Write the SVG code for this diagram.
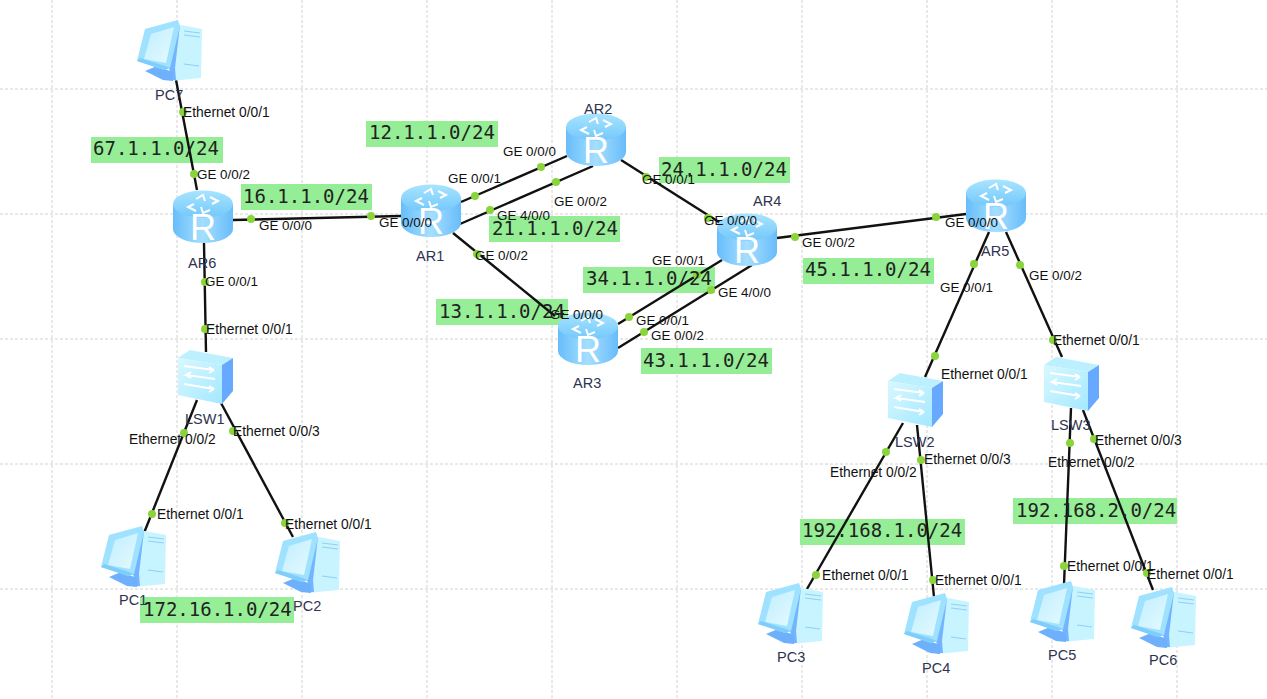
<svg xmlns="http://www.w3.org/2000/svg" width="1267" height="699" viewBox="0 0 1267 699">
<style>
.grid{stroke:#d2d2d2;stroke-width:1;stroke-dasharray:3 2;fill:none}
.link{stroke:#111;stroke-width:2.4;fill:none}
.dot{fill:#8ad43c}
.net{fill:#90ee90}
.nett{font-family:"DejaVu Sans Mono","Liberation Mono",monospace;font-size:19px;fill:#222}
.port{font-family:"Liberation Sans",Arial,sans-serif;font-size:13.4px;fill:#111}
.eth{font-size:13.8px}
.name{font-family:"Liberation Sans",Arial,sans-serif;font-size:14.5px;fill:#2e3350}
.ico{fill:none;stroke:#fff;stroke-width:2}
</style>
<defs>
<linearGradient id="rb" x1="0" y1="0" x2="1" y2="0"><stop offset="0" stop-color="#67bdfb"/><stop offset=".5" stop-color="#a5dfff"/><stop offset="1" stop-color="#68bcfa"/></linearGradient>
<linearGradient id="rt" x1="0" y1="0" x2="0" y2="1"><stop offset="0" stop-color="#a8e4ff"/><stop offset="1" stop-color="#74c8fb"/></linearGradient>
<linearGradient id="sf" x1="0" y1="0" x2="1" y2="1"><stop offset="0" stop-color="#d8f8ff"/><stop offset="1" stop-color="#a4e8ff"/></linearGradient>
<linearGradient id="ps" x1="0" y1="0" x2="1" y2="1"><stop offset="0" stop-color="#c0eeff"/><stop offset="1" stop-color="#e4faff"/></linearGradient>
<symbol id="router" width="60" height="53" viewBox="0 0 60 53" overflow="visible">
<path d="M0 14V39A30 14 0 0 0 60 39V14Z" fill="url(#rb)"/>
<ellipse cx="30" cy="14" rx="30" ry="13.5" fill="url(#rt)"/>
<path class="ico" d="M23 9l7-4 2 6M37 7l8 4-6 3M37 20l-7 3-2-6M23 21l-8-4 6-3"/>
<text x="30" y="50" text-anchor="middle" font-family="Liberation Sans,Arial,sans-serif" font-size="36" fill="#fff">R</text>
</symbol>
<symbol id="switch" width="55" height="54" viewBox="0 0 55 54" overflow="visible">
<path d="M0 8L12 0L55 8L44 15Z" fill="#bdf0ff"/>
<path d="M0 8L44 15V54L0 45Z" fill="url(#sf)"/>
<path d="M44 15L55 8V41L44 54Z" fill="#66a9ff"/>
<path class="ico" d="M6 16L36 20L31 17M36 20L31 23M37 29L8 25L13 22M8 25L13 28M6 34L36 39L31 36M36 39L31 42"/>
</symbol>
<symbol id="pc" width="66" height="62" viewBox="0 0 66 62" overflow="visible">
<path d="M33 6L44 5L65 9L64 58L33 61Z" fill="#c8f4ff"/>
<path d="M43 5L40 12L32 48L35 60L39 60L38 48Z" fill="#74b4ff"/>
<path d="M47 11L63 13M47 15L63 17M47 44L62 46" stroke="#8fd0f5" stroke-width="1.2" fill="none"/>
<path d="M8 51L20 46L36 52L36 61L26 60Z" fill="#6eb0fc"/>
<path d="M0 41L8 9L41 0L43 6L33 48L27 50Z" fill="#9ee2ff"/>
<path d="M7 39L14 14L37 7L29 43Z" fill="url(#ps)"/>
<path d="M0 41L27 50L33 48L28 46L3 38Z" fill="#7fcdfb"/>
</symbol>
</defs>
<rect width="1267" height="699" fill="#fff"/>
<g id="grid">
<path class="grid" d="M52 0V699M177 0V699M302 0V699M427 0V699M552 0V699M677 0V699M802 0V699M927 0V699M1052 0V699M1177 0V699M0 89H1267M0 214H1267M0 339H1267M0 464H1267M0 589H1267"/>
</g>
<g id="networks" opacity=".95">
<rect class="net" x="91" y="137" width="132" height="26"/>
<rect class="net" x="241" y="184" width="131" height="26"/>
<rect class="net" x="366" y="121" width="132" height="26"/>
<rect class="net" x="489" y="216" width="131" height="26"/>
<rect class="net" x="659" y="157" width="131" height="26"/>
<rect class="net" x="583" y="267" width="132" height="26"/>
<rect class="net" x="436" y="299" width="132" height="26"/>
<rect class="net" x="641" y="348" width="131" height="26"/>
<rect class="net" x="803" y="258" width="131" height="26"/>
<rect class="net" x="140" y="597" width="154" height="26"/>
<rect class="net" x="800" y="519" width="165" height="26"/>
<rect class="net" x="1013" y="498" width="164" height="26"/>
</g>
<g id="connectors">
<line class="link" x1="176" y1="80" x2="197" y2="190"/>
<line class="link" x1="233" y1="220" x2="401" y2="216"/>
<line class="link" x1="204" y1="243" x2="206" y2="352"/>
<line class="link" x1="197" y1="400" x2="144" y2="533"/>
<line class="link" x1="221" y1="403" x2="293" y2="537"/>
<line class="link" x1="461" y1="202" x2="567" y2="156"/>
<line class="link" x1="460" y1="224" x2="593" y2="166"/>
<line class="link" x1="453" y1="233" x2="555" y2="316"/>
<line class="link" x1="621" y1="160" x2="722" y2="224"/>
<line class="link" x1="618" y1="324" x2="722" y2="260"/>
<line class="link" x1="618" y1="348" x2="752" y2="265"/>
<line class="link" x1="777" y1="238" x2="966" y2="214"/>
<line class="link" x1="989" y1="232" x2="925" y2="377"/>
<line class="link" x1="1006" y1="232" x2="1062" y2="357"/>
<line class="link" x1="903" y1="423" x2="807" y2="589"/>
<line class="link" x1="917" y1="425" x2="934" y2="597"/>
<line class="link" x1="1071" y1="408" x2="1064" y2="585"/>
<line class="link" x1="1083" y1="410" x2="1153" y2="590"/>
</g>
<g id="PC7"><use href="#pc" x="137" y="20"/><text class="name" x="155" y="100">PC7</text></g>
<g id="AR6"><use href="#router" x="173" y="190"/><text class="name" x="188" y="268">AR6</text></g>
<g id="AR1"><use href="#router" x="401" y="184"/><text class="name" x="416" y="261">AR1</text></g>
<g id="AR2"><use href="#router" x="566" y="113"/><text class="name" x="584" y="114">AR2</text></g>
<g id="AR3"><use href="#router" x="558" y="312"/><text class="name" x="573" y="388">AR3</text></g>
<g id="AR4"><use href="#router" x="717" y="213"/><text class="name" x="753" y="206">AR4</text></g>
<g id="AR5"><use href="#router" x="966" y="179"/><text class="name" x="981" y="256">AR5</text></g>
<g id="LSW1"><use href="#switch" x="178" y="350"/><text class="name" x="185" y="424">LSW1</text></g>
<g id="LSW2"><use href="#switch" x="888" y="373"/><text class="name" x="895" y="447">LSW2</text></g>
<g id="LSW3"><use href="#switch" x="1044" y="357"/><text class="name" x="1051" y="430">LSW3</text></g>
<g id="PC1"><use href="#pc" x="101" y="526"/><text class="name" x="119" y="605">PC1</text></g>
<g id="PC2"><use href="#pc" x="275" y="532"/><text class="name" x="293" y="611">PC2</text></g>
<g id="PC3"><use href="#pc" x="758" y="583"/><text class="name" x="777" y="662">PC3</text></g>
<g id="PC4"><use href="#pc" x="904" y="593"/><text class="name" x="922" y="673">PC4</text></g>
<g id="PC5"><use href="#pc" x="1030" y="581"/><text class="name" x="1048" y="660">PC5</text></g>
<g id="PC6"><use href="#pc" x="1131" y="587"/><text class="name" x="1149" y="665">PC6</text></g>
<g id="ports">
<g class="dot">
<circle cx="183" cy="112" r="4"/><circle cx="194" cy="174" r="4"/><circle cx="251" cy="219" r="4"/><circle cx="371" cy="216" r="4"/><circle cx="205" cy="282" r="4"/><circle cx="205" cy="329" r="4"/><circle cx="184" cy="433" r="4"/><circle cx="233" cy="431" r="4"/><circle cx="152" cy="514" r="4"/><circle cx="285" cy="523" r="4"/><circle cx="475" cy="196" r="4"/><circle cx="541" cy="167" r="4"/><circle cx="490" cy="210" r="4"/><circle cx="556" cy="182" r="4"/><circle cx="477" cy="254" r="4"/><circle cx="646" cy="177" r="4"/><circle cx="708" cy="218" r="4"/><circle cx="629" cy="317" r="4"/><circle cx="644" cy="332" r="4"/><circle cx="697" cy="275" r="4"/><circle cx="711" cy="290" r="4"/><circle cx="795" cy="237" r="4"/><circle cx="936" cy="217" r="4"/><circle cx="974" cy="264" r="4"/><circle cx="935" cy="356" r="4"/><circle cx="1020" cy="265" r="4"/><circle cx="1053" cy="340" r="4"/><circle cx="886" cy="452" r="4"/><circle cx="921" cy="460" r="4"/><circle cx="1070" cy="443" r="4"/><circle cx="1094" cy="439" r="4"/><circle cx="816" cy="575" r="4"/><circle cx="933" cy="580" r="4"/><circle cx="1064" cy="566" r="4"/><circle cx="1147" cy="573" r="4"/>
</g>
<g class="port">
<text class="eth" x="183" y="117">Ethernet 0/0/1</text><text x="197" y="179">GE 0/0/2</text><text x="259" y="230">GE 0/0/0</text><text x="379" y="227">GE 0/0/0</text><text x="205" y="286">GE 0/0/1</text><text class="eth" x="206" y="334">Ethernet 0/0/1</text><text class="eth" x="129" y="444">Ethernet 0/0/2</text><text class="eth" x="233" y="436">Ethernet 0/0/3</text><text class="eth" x="157" y="519">Ethernet 0/0/1</text><text class="eth" x="285" y="529">Ethernet 0/0/1</text><text x="448" y="183">GE 0/0/1</text><text x="503" y="156">GE 0/0/0</text><text x="497" y="220">GE 4/0/0</text><text x="554" y="206">GE 0/0/2</text><text x="475" y="260">GE 0/0/2</text><text x="642" y="184">GE 0/0/1</text><text x="704" y="225">GE 0/0/0</text><text x="652" y="265">GE 0/0/1</text><text x="718" y="297">GE 4/0/0</text><text x="636" y="325">GE 0/0/1</text><text x="651" y="340">GE 0/0/2</text><text x="550" y="319">GE 0/0/0</text><text x="802" y="247">GE 0/0/2</text><text x="945" y="227">GE 0/0/0</text><text x="940" y="292">GE 0/0/1</text><text x="1029" y="280">GE 0/0/2</text><text class="eth" x="941" y="379">Ethernet 0/0/1</text><text class="eth" x="1053" y="345">Ethernet 0/0/1</text><text class="eth" x="924" y="464">Ethernet 0/0/3</text><text class="eth" x="830" y="477">Ethernet 0/0/2</text><text class="eth" x="1048" y="467">Ethernet 0/0/2</text><text class="eth" x="1095" y="445">Ethernet 0/0/3</text><text class="eth" x="822" y="580">Ethernet 0/0/1</text><text class="eth" x="935" y="585">Ethernet 0/0/1</text><text class="eth" x="1067" y="571">Ethernet 0/0/1</text><text class="eth" x="1147" y="579">Ethernet 0/0/1</text>
</g>
</g>
<g id="network-labels" class="nett">
<text x="93" y="155">67.1.1.0/24</text><text x="243" y="203">16.1.1.0/24</text><text x="369" y="139">12.1.1.0/24</text><text x="492" y="235">21.1.1.0/24</text><text x="661" y="176">24.1.1.0/24</text><text x="586" y="285">34.1.1.0/24</text><text x="439" y="318">13.1.1.0/24</text><text x="643" y="367">43.1.1.0/24</text><text x="805" y="276">45.1.1.0/24</text><text x="143" y="616">172.16.1.0/24</text><text x="802" y="537">192.168.1.0/24</text><text x="1016" y="517">192.168.2.0/24</text>
</g>
</svg>
